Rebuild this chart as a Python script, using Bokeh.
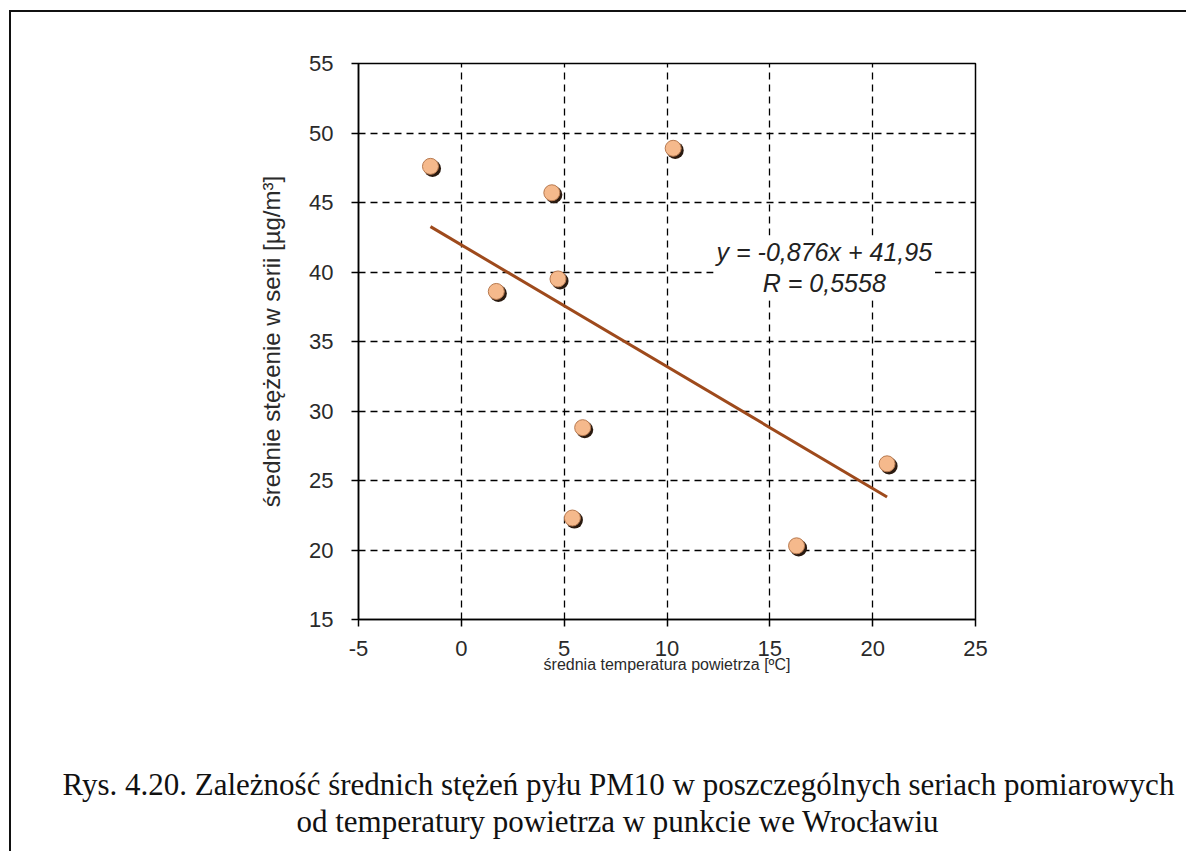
from bokeh.plotting import figure
from bokeh.models import Range1d, Label, FixedTicker, Title
from bokeh.embed import file_html
from bokeh.resources import INLINE

# data
temp = [-1.5, 1.7, 4.4, 4.7, 10.3, 5.9, 5.4, 16.3, 20.7]
pm10 = [47.6, 38.6, 45.7, 39.5, 48.9, 28.8, 22.3, 20.3, 26.2]
slope = -0.876
intercept = 41.95
eq_text = "y = -0,876x + 41,95\nR = 0,5558"
x_ticks = [-5, 0, 5, 10, 15, 20, 25]
y_ticks = [15, 20, 25, 30, 35, 40, 45, 50, 55]
x_label = "średnia temperatura powietrza [ºC]"
y_label = "średnie stężenie w serii [µg/m³]"
caption1 = "Rys. 4.20. Zależność średnich stężeń pyłu PM10 w poszczególnych seriach pomiarowych"
caption2 = "od temperatury powietrza w punkcie we Wrocławiu"

W, H = 1186, 851
FL, FT, FW, FH = 358, 63, 617, 556
p = figure(width=W, height=H, output_backend="svg", toolbar_location=None,
           x_range=Range1d(-5, 25), y_range=Range1d(15, 55),
           min_border_left=FL, min_border_top=FT,
           min_border_right=W - FL - FW, min_border_bottom=H - FT - FH)
# outer document frame (top and left edges) drawn behind a transparent canvas
p.styles = {"box-shadow": "inset 9px 10px 0px 0px #ffffff, inset 11px 12px 0px 0px #111111",
            "background-color": "white"}
p.background_fill_color = "white"
p.border_fill_alpha = 0
p.outline_line_color = "black"
p.outline_line_width = 1.5

for ax, ticks in ((p.xaxis[0], x_ticks), (p.yaxis[0], y_ticks)):
    ax.ticker = FixedTicker(ticks=ticks)
    ax.major_label_overrides = {t: str(t) for t in ticks}
    ax.minor_tick_line_color = None
    ax.major_tick_in = 0
    ax.major_tick_out = 7
    ax.major_tick_line_color = "black"
    ax.major_tick_line_width = 1.5
    ax.axis_line_color = "black"
    ax.axis_line_width = 1.5
    ax.major_label_text_font = "Liberation Sans"
    ax.major_label_text_font_size = "22px"
    ax.major_label_text_color = "#2a2a2a"
    ax.axis_label_text_font = "Liberation Sans"
    ax.axis_label_text_font_style = "normal"
    ax.axis_label_text_color = "#2a2a2a"

p.xaxis.major_label_standoff = 14
p.yaxis.major_label_standoff = 18
p.xaxis.axis_label = x_label
p.yaxis.axis_label = y_label
p.xaxis.axis_label_text_font_size = "16px"
p.yaxis.axis_label_text_font_size = "24px"
p.xaxis.axis_label_standoff = -3
p.yaxis.axis_label_standoff = 21

p.xgrid.ticker = FixedTicker(ticks=x_ticks)
p.ygrid.ticker = FixedTicker(ticks=y_ticks)
for g in (p.xgrid, p.ygrid):
    g.grid_line_color = "black"
    g.grid_line_width = 1.3
    g.grid_line_dash = "7 5"

# trend line
tx = [min(temp), max(temp)]
ty = [slope * v + intercept for v in tx]
p.line(tx, ty, line_color="#9E4A1C", line_width=3)

# markers with shadow
dx = 0.1
dy = 0.15
p.scatter([t + dx for t in temp], [v - dy for v in pm10], size=17, fill_color="#2a1a10",
          line_color=None)
p.scatter(temp, pm10, size=16, fill_color="#F5B98C", line_color="#B87A50", line_width=1)

p.add_layout(Label(x=17.65, y=40.3, text=eq_text, text_align="center", text_baseline="middle",
                   text_font="Liberation Sans", text_font_style="italic", text_font_size="25px",
                   text_line_height=1.1, text_color="#222222",
                   background_fill_color="white", padding=3))

# spacer, then caption lines below the x axis
p.add_layout(Title(text=" ", text_font_size="1px", standoff=86), "below")
p.add_layout(Title(text=caption1, align="left", offset=-296, standoff=0,
                   text_font="Liberation Serif", text_font_size="31px",
                   text_font_style="normal", text_color="#111111"), "below")
p.add_layout(Title(text=caption2, align="left", offset=-62, standoff=0,
                   text_font="Liberation Serif", text_font_size="31px",
                   text_font_style="normal", text_color="#111111"), "below")

open("out.html", "w").write(file_html(p, INLINE))
